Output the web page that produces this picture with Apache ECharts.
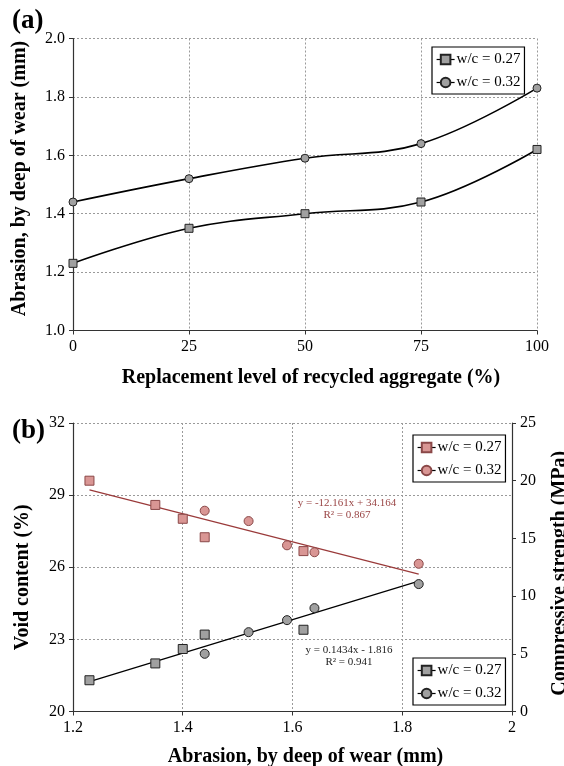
<!DOCTYPE html>
<html>
<head>
<meta charset="utf-8">
<script src="https://cdn.jsdelivr.net/npm/echarts@6/dist/echarts.min.js"></script>
<style>
html,body{margin:0;padding:0;background:#fff;}
#main{width:564px;height:766px;}
</style>
</head>
<body>
<div id="main"></div>
<script>
// ---- Data (a): abrasion vs replacement level ----
const replacementLevels = [0, 25, 50, 75, 100];
const abrasionWc027 = [1.23, 1.35, 1.40, 1.44, 1.62];
const abrasionWc032 = [1.44, 1.52, 1.59, 1.64, 1.83];

// ---- Data (b): void content & compressive strength vs abrasion ----
const voidWc027 = [21.3, 22.0, 22.6, 23.2, 23.4];
const voidWc032 = [22.4, 23.3, 23.8, 24.3, 25.3];
const strengthWc027 = [20.0, 17.9, 16.7, 15.1, 13.9];
const strengthWc032 = [17.4, 16.5, 14.4, 13.8, 12.8];

// trend line coefficients (as printed on the chart)
const strengthFit = [-12.161, 34.164];   // strength = a*abrasion + b
const voidFit = [0.1434, -1.816];        // abrasion = a*void + b
const fitRange = [1.23, 1.83];

const seriesLabels = {
  a27: 'w/c = 0.27', a32: 'w/c = 0.32',
  p27: 'w/c = 0.27', p32: 'w/c = 0.32',
  g27: 'w/c = 0.27', g32: 'w/c = 0.32'
};

const FONT = "'Liberation Serif', 'Times New Roman', serif";
const zip = (xs, ys) => xs.map((x, i) => [x, ys[i]]);

const chart = echarts.init(document.getElementById('main'), null, {renderer: 'canvas'});

const gridLine = {show: true, lineStyle: {color: '#9a9a9a', type: [2, 2], width: 1}};
const axisLine = {show: true, lineStyle: {color: '#333', width: 1.2}};
const axisTick = {show: true, inside: false, length: 4, lineStyle: {color: '#333'}};
const axisLabel = {color: '#000', fontFamily: FONT, fontSize: 16};
const nameStyle = (pad) => ({color: '#000', fontFamily: FONT, fontSize: 20, fontWeight: 'bold', padding: pad});

const grayMarker = {color: '#a0a0a0', borderColor: '#222', borderWidth: 1};
const pinkMarker = {color: '#d99694', borderColor: '#8a4848', borderWidth: 1};

const legendBase = {
  orient: 'vertical',
  backgroundColor: '#fff',
  borderColor: '#000',
  borderWidth: 1.2,
  borderRadius: 0,
  padding: [5, 4, 4, 4],
  itemGap: 8,
  itemWidth: 18,
  itemHeight: 12,
  selectedMode: false,
  textStyle: {color: '#000', fontFamily: FONT, fontSize: 15, padding: [0, 0, 0, -3]},
  lineStyle: {color: '#000', width: 1.2, opacity: 1, type: 'solid'},
  formatter: name => seriesLabels[name]
};

const strengthLine = fitRange.map(x => [x, strengthFit[0] * x + strengthFit[1]]);
const voidLine = fitRange.map(x => [x, (x - voidFit[1]) / voidFit[0]]);

const option = {
  animation: false,
  backgroundColor: '#fff',
  grid: [
    {left: 73, top: 38.5, width: 464, height: 292, outerBoundsMode: 'none', containLabel: false},
    {left: 73, top: 423, width: 439, height: 288.5, outerBoundsMode: 'none', containLabel: false}
  ],
  xAxis: [
    {
      gridIndex: 0, type: 'value', min: 0, max: 100, interval: 25,
      axisLine, axisTick, axisLabel: {...axisLabel, margin: 8},
      splitLine: gridLine,
      name: 'Replacement level of recycled aggregate (%)',
      nameLocation: 'middle', nameGap: 37, nameTextStyle: nameStyle([0, 0, 0, 12])
    },
    {
      gridIndex: 1, type: 'value', min: 1.2, max: 2, interval: 0.2,
      axisLine, axisTick, axisLabel: {...axisLabel, margin: 8},
      splitLine: gridLine,
      name: 'Abrasion, by deep of wear (mm)',
      nameLocation: 'middle', nameGap: 35, nameTextStyle: nameStyle([0, 0, 0, 26])
    }
  ],
  yAxis: [
    {
      gridIndex: 0, type: 'value', min: 1.0, max: 2.0, interval: 0.2,
      axisLine, axisTick,
      axisLabel: {...axisLabel, margin: 8, formatter: v => v.toFixed(1)},
      splitLine: gridLine,
      name: 'Abrasion, by deep of wear (mm)',
      nameLocation: 'middle', nameGap: 43, nameRotate: 90, nameTextStyle: nameStyle([0, 0, 0, 12])
    },
    {
      gridIndex: 1, type: 'value', min: 20, max: 32, interval: 3,
      axisLine, axisTick, axisLabel: {...axisLabel, margin: 8},
      splitLine: gridLine,
      name: 'Void content (%)',
      nameLocation: 'middle', nameGap: 40, nameRotate: 90, nameTextStyle: nameStyle([0, 20, 0, 0])
    },
    {
      gridIndex: 1, type: 'value', position: 'right', min: 0, max: 25, interval: 5,
      axisLine, axisTick, axisLabel: {...axisLabel, margin: 8},
      splitLine: {show: false},
      name: 'Compressive strength (MPa)',
      nameLocation: 'middle', nameGap: 38, nameRotate: 90, nameTextStyle: nameStyle([0, 12, 0, 0])
    }
  ],
  legend: [
    {...legendBase, left: 432, top: 47, data: ['a27', 'a32']},
    {...legendBase, left: 413, top: 435, data: ['p27', 'p32']},
    {...legendBase, left: 413, top: 658, data: ['g27', 'g32']}
  ],
  series: [
    {
      name: 'a27', type: 'line', xAxisIndex: 0, yAxisIndex: 0, smooth: 0.4,
      data: zip(replacementLevels, abrasionWc027),
      symbol: 'rect', symbolSize: 8, showSymbol: true,
      lineStyle: {color: '#000', width: 1.6}, itemStyle: grayMarker, z: 5
    },
    {
      name: 'a32', type: 'line', xAxisIndex: 0, yAxisIndex: 0, smooth: 0.4,
      data: zip(replacementLevels, abrasionWc032),
      symbol: 'circle', symbolSize: 8, showSymbol: true,
      lineStyle: {color: '#000', width: 1.6}, itemStyle: grayMarker, z: 5
    },
    {
      name: 'strengthFit', type: 'line', xAxisIndex: 1, yAxisIndex: 2,
      data: strengthLine, symbol: 'none', silent: true,
      lineStyle: {color: '#9a3a3a', width: 1.2}, z: 3
    },
    {
      name: 'voidFit', type: 'line', xAxisIndex: 1, yAxisIndex: 1,
      data: voidLine, symbol: 'none', silent: true,
      lineStyle: {color: '#000', width: 1.2}, z: 3
    },
    {
      name: 'p27', type: 'line', xAxisIndex: 1, yAxisIndex: 2,
      data: zip(abrasionWc027, strengthWc027),
      symbol: 'rect', symbolSize: 9, showSymbol: true,
      lineStyle: {color: '#000', width: 1, opacity: 0}, itemStyle: pinkMarker, z: 6
    },
    {
      name: 'p32', type: 'line', xAxisIndex: 1, yAxisIndex: 2,
      data: zip(abrasionWc032, strengthWc032),
      symbol: 'circle', symbolSize: 9, showSymbol: true,
      lineStyle: {color: '#000', width: 1, opacity: 0}, itemStyle: pinkMarker, z: 6
    },
    {
      name: 'g27', type: 'line', xAxisIndex: 1, yAxisIndex: 1,
      data: zip(abrasionWc027, voidWc027),
      symbol: 'rect', symbolSize: 9, showSymbol: true,
      lineStyle: {color: '#000', width: 1, opacity: 0}, itemStyle: grayMarker, z: 6
    },
    {
      name: 'g32', type: 'line', xAxisIndex: 1, yAxisIndex: 1,
      data: zip(abrasionWc032, voidWc032),
      symbol: 'circle', symbolSize: 9, showSymbol: true,
      lineStyle: {color: '#000', width: 1, opacity: 0}, itemStyle: grayMarker, z: 6
    }
  ],
  graphic: [
    {type: 'text', left: 12, top: 8, style: {text: '(a)', fontFamily: FONT, fontSize: 27, fontWeight: 'bold', fill: '#000'}},
    {type: 'text', left: 12, top: 418, style: {text: '(b)', fontFamily: FONT, fontSize: 27, fontWeight: 'bold', fill: '#000'}},
    {type: 'text', x: 347, y: 509, style: {
      text: 'y = -12.161x + 34.164\nR² = 0.867', fontFamily: FONT, fontSize: 11, lineHeight: 12,
      fill: '#9a4646', align: 'center', verticalAlign: 'middle'}},
    {type: 'text', x: 349, y: 656, style: {
      text: 'y = 0.1434x - 1.816\nR² = 0.941', fontFamily: FONT, fontSize: 11, lineHeight: 12,
      fill: '#222', align: 'center', verticalAlign: 'middle'}}
  ]
};

chart.setOption(option);
</script>
</body>
</html>
